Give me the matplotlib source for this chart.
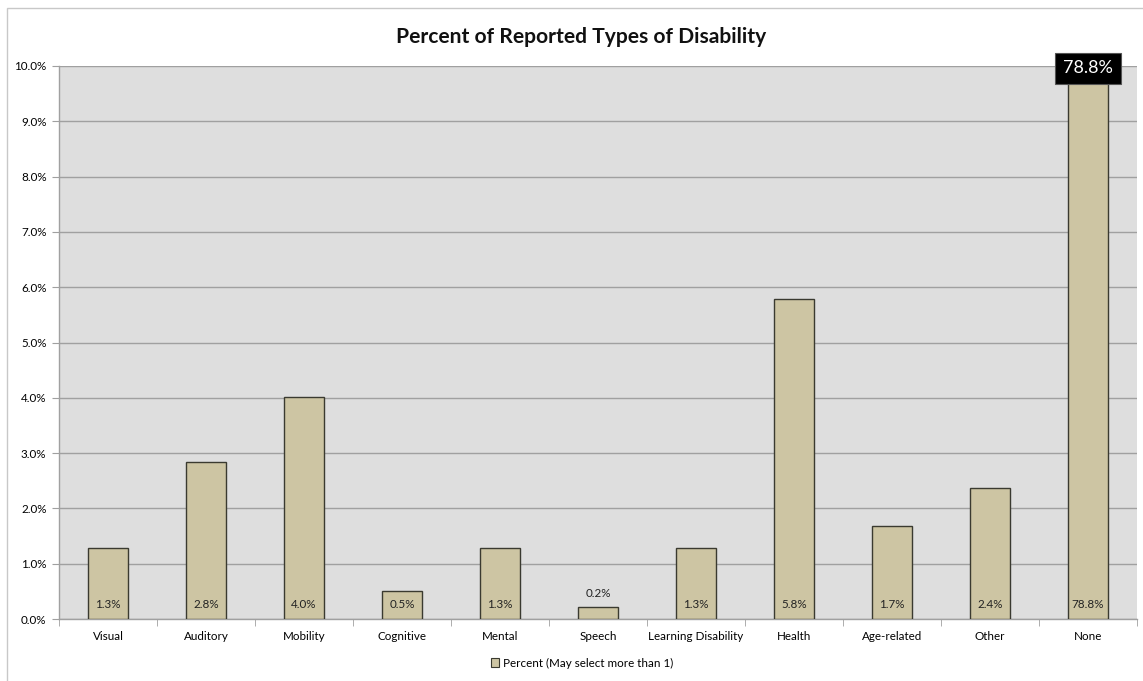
import matplotlib
matplotlib.use("Agg")
import matplotlib.pyplot as plt
from matplotlib.patches import Rectangle, Patch
from matplotlib.ticker import FuncFormatter, MultipleLocator, FixedLocator

categories = ["Visual", "Auditory", "Mobility", "Cognitive", "Mental", "Speech",
              "Learning Disability", "Health", "Age-related", "Other", "None"]
percent = [1.28, 2.84, 4.01, 0.51, 1.28, 0.22, 1.28, 5.79, 1.68, 2.37, 78.8]
series_name = "Percent (May select more than 1)"
title = "Percent of Reported Types of Disability"

plt.rcParams["font.family"] = ["Lato", "DejaVu Sans"]

W, H = 1143, 681
fig = plt.figure(figsize=(W / 100, H / 100), dpi=100)
fig.patch.set_facecolor("white")

# outer chart frame (partly beyond the canvas)
fig.add_artist(Rectangle((7 / W, -0.05), 1.1, 1 - 8 / H + 0.05,
                         transform=fig.transFigure, fill=False,
                         edgecolor="#c8c8c8", linewidth=1.0))

left, right, top, bottom = 59, 1137, 66, 619
ax = fig.add_axes([left / W, 1 - bottom / H, (right - left) / W, (bottom - top) / H])
ax.set_facecolor("#dedede")

x = list(range(len(categories)))
bars = ax.bar(x, percent, width=0.4, color="#cdc5a3", edgecolor="#3a3a30",
              linewidth=1.0, zorder=3, clip_on=True)

ax.set_xlim(-0.5, len(categories) - 0.5)
ax.set_ylim(0, 10)
ax.yaxis.set_major_locator(MultipleLocator(1))
ax.yaxis.set_major_formatter(FuncFormatter(lambda v, p: f"{v:.1f}%"))
ax.grid(axis="y", color="#a0a0a0", linewidth=1.0, zorder=1)
ax.set_axisbelow(True)

fs = 8.4
ax.set_xticks(x)
ax.set_xticklabels(categories, fontsize=fs)
ax.xaxis.set_minor_locator(FixedLocator([i + 0.5 for i in range(-1, len(categories))]))
ax.tick_params(axis="x", which="major", length=0, pad=9)
ax.tick_params(axis="x", which="minor", length=5, color="#a0a0a0", direction="out")
ax.tick_params(axis="y", length=5, color="#a0a0a0", labelsize=fs, pad=4)

for s in ["top", "right"]:
    ax.spines[s].set_visible(False)
for s in ["left", "bottom"]:
    ax.spines[s].set_color("#a0a0a0")
    ax.spines[s].set_linewidth(1.0)

for xi, v in zip(x, percent):
    label = f"{v:.1f}%"
    if v < 0.45:
        ax.text(xi, v + 0.15, label, ha="center", va="bottom", fontsize=fs, color="#222222", zorder=4)
    else:
        ax.text(xi, 0.26, label, ha="center", va="center", fontsize=fs, color="#222222", zorder=4)

# callout for the bar that runs past the axis
big = percent[-1]
ax.text(x[-1], 9.96, f"{big:.1f}%", ha="center", va="center", fontsize=13, color="white",
        zorder=6, clip_on=False,
        bbox=dict(boxstyle="square,pad=0.42", facecolor="black", edgecolor="#555555", linewidth=0.8))

fig.text(581 / W, 1 - 37 / H, title, ha="center", va="center",
         fontsize=15.1, fontweight="bold", color="#111111")

handle = Patch(facecolor="#cdc5a3", edgecolor="#3a3a30", linewidth=0.8)
fig.legend([handle], [series_name], loc="center", bbox_to_anchor=(582 / W, 1 - 663 / H),
           frameon=False, fontsize=fs, handlelength=0.7, handleheight=0.7, handletextpad=0.3)

fig.savefig("out.png", dpi=100)
